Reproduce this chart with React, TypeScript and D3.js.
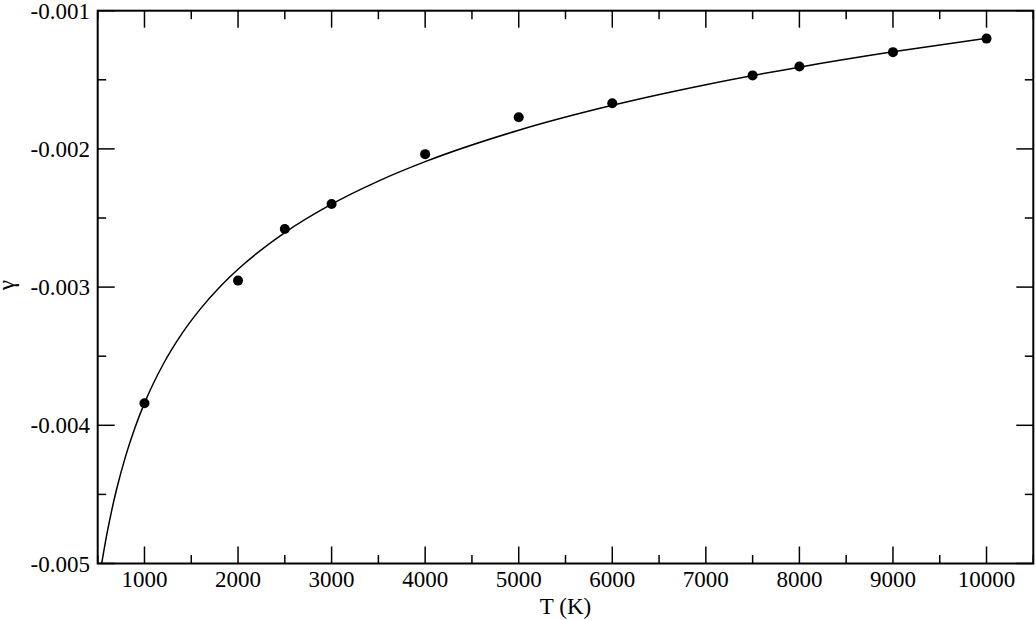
import React from "react";
import * as d3 from "d3";

const pointT = [1000, 2000, 2500, 3000, 4000, 5000, 6000, 7500, 8000, 9000, 10000];
const pointGamma = [-0.00384, -0.002953, -0.00258, -0.002399, -0.002038, -0.001771, -0.00167, -0.001468, -0.001404, -0.0013, -0.001202];

const fitT = [540, 600, 650, 700, 800, 900, 1000, 1200, 1400, 1600, 1800, 2000, 2500, 3000, 3500, 4000, 5000, 6000, 7000, 8000, 9000, 10000];
const fitGamma = [-0.00501, -0.0047805, -0.004615, -0.0044685, -0.0042194, -0.0040137, -0.0038398, -0.0035583, -0.0033369, -0.0031556, -0.0030028, -0.002871, -0.0026055, -0.0023998, -0.0022328, -0.0020923, -0.0018648, -0.0016845, -0.0015354, -0.0014084, -0.0012977, -0.0011999];

const xMajor = [1000, 2000, 3000, 4000, 5000, 6000, 7000, 8000, 9000, 10000];
const xMinor = [500, 1500, 2500, 3500, 4500, 5500, 6500, 7500, 8500, 9500, 10500];
const yMajor = [-0.001, -0.002, -0.003, -0.004, -0.005];
const yMinor = [-0.0015, -0.0025, -0.0035, -0.0045];

const W = 1036, H = 620;
const L = 97.7, R = 1033.3, T = 10.7, B = 563.5;
const FONT = "'Liberation Serif', 'Times New Roman', serif";

export default function App() {
  const x = d3.scaleLinear().domain([500, 10500]).range([L, R]);
  const y = d3.scaleLinear().domain([-0.005, -0.001]).range([B, T]);
  const line = d3
    .line<number>()
    .x((_, i) => x(fitT[i]))
    .y((d) => y(d))
    .curve(d3.curveMonotoneX);
  const major = 17, minor = 8.5;
  return (
    <svg width={W} height={H} style={{ position: "absolute", left: 0, top: 0, background: "#fff" }}>
      <defs>
        <clipPath id="plot">
          <rect x={L} y={T} width={R - L} height={B - T} />
        </clipPath>
      </defs>
      <path d={line(fitGamma) || ""} fill="none" stroke="#000" strokeWidth={1.5} clipPath="url(#plot)" />
      {pointT.map((t, i) => (
        <circle key={t} cx={x(t)} cy={y(pointGamma[i])} r={5} fill="#000" />
      ))}
      <g stroke="#000" strokeWidth={1.5}>
        {xMajor.map((v) => (
          <g key={"xM" + v}>
            <line x1={x(v)} x2={x(v)} y1={B} y2={B - major} />
            <line x1={x(v)} x2={x(v)} y1={T} y2={T + major} />
          </g>
        ))}
        {xMinor.map((v) => (
          <g key={"xm" + v}>
            <line x1={x(v)} x2={x(v)} y1={B} y2={B - minor} />
            <line x1={x(v)} x2={x(v)} y1={T} y2={T + minor} />
          </g>
        ))}
        {yMajor.map((v) => (
          <g key={"yM" + v}>
            <line x1={L} x2={L + major} y1={y(v)} y2={y(v)} />
            <line x1={R} x2={R - major} y1={y(v)} y2={y(v)} />
          </g>
        ))}
        {yMinor.map((v) => (
          <g key={"ym" + v}>
            <line x1={L} x2={L + minor} y1={y(v)} y2={y(v)} />
            <line x1={R} x2={R - minor} y1={y(v)} y2={y(v)} />
          </g>
        ))}
      </g>
      <rect x={L} y={T} width={R - L} height={B - T} fill="none" stroke="#000" strokeWidth={2} />
      <g fontFamily={FONT} fontSize={23} fill="#000">
        {xMajor.map((v) => (
          <text key={"xl" + v} x={x(v)} y={587} textAnchor="middle">
            {String(v)}
          </text>
        ))}
        {yMajor.map((v) => (
          <text key={"yl" + v} x={90} y={y(v) + 8} textAnchor="end">
            {d3.format(".3f")(v).replace("−", "-")}
          </text>
        ))}
        <text x={(L + R) / 2} y={614} textAnchor="middle">T (K)</text>
        <text x={0} y={0} textAnchor="middle" transform={`translate(14, ${(T + B) / 2 - 2}) rotate(-90)`}>γ</text>
      </g>
    </svg>
  );
}
